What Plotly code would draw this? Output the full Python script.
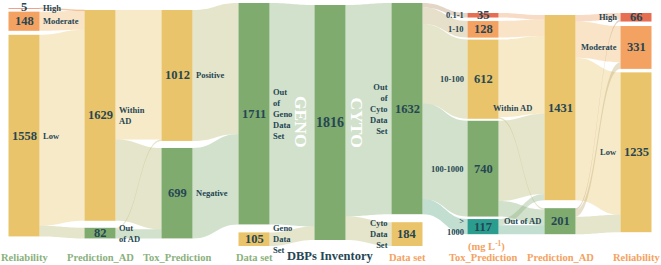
import plotly.graph_objects as go

# ---------------- data ----------------
rel_left_labels = ["High", "Moderate", "Low"]
rel_left_values = [5, 148, 1558]
ad_left_labels = ["Within AD", "Out of AD"]
ad_left_values = [1629, 82]
tox_left_labels = ["Positive", "Negative"]
tox_left_values = [1012, 699]
geno_labels = ["Out of Geno Data Set", "Geno Data Set"]
geno_values = [1711, 105]
inventory_label = "DBPs Inventory"
inventory_total = 1816
cyto_labels = ["Out of Cyto Data Set", "Cyto Data Set"]
cyto_values = [1632, 184]
tox_right_labels = ["0.1-1", "1-10", "10-100", "100-1000", ">1000"]
tox_right_values = [35, 128, 612, 740, 117]
ad_right_labels = ["Within AD", "Out of AD"]
ad_right_values = [1431, 201]
rel_right_labels = ["High", "Moderate", "Low"]
rel_right_values = [66, 331, 1235]

# estimated cross flows (rows = source categories, cols = target categories)
rel_to_ad_left = [[5, 0], [148, 0], [1476, 82]]
ad_to_tox_left = [[1000, 629], [12, 70]]
tox_to_ad_right = [[35, 0], [128, 0], [600, 12], [620, 120], [48, 69]]
ad_to_rel_right = [[50, 280, 1101], [16, 51, 134]]

axis_titles_left = ["Reliability", "Prediction_AD", "Tox_Prediction", "Data set"]
axis_titles_right = ["Data set", "Tox_Prediction", "Prediction_AD", "Reliability"]

# ---------------- styling ----------------
W, H = 661, 265
PAD = 10
THICK = 31
GOLD, GREEN, ORANGE, RED, TEAL = "#E9C46A", "#7FAB6F", "#F4A261", "#E76F51", "#2A9D8F"
NAVY = "#264653"
LGREEN_TXT, ORANGE_TXT = "#8AB17D", "#F4A261"
FONT = "Liberation Serif"

# ---------------- nodes ----------------
names, colors = [], []
def add_nodes(labels, cols):
    start = len(names)
    names.extend(labels)
    colors.extend(cols)
    return list(range(start, start + len(labels)))

RL = add_nodes(rel_left_labels, [RED, ORANGE, GOLD])
AL = add_nodes(ad_left_labels, [GOLD, GREEN])
TL = add_nodes(tox_left_labels, [GOLD, GREEN])
GL = add_nodes(geno_labels, [GREEN, GOLD])
DB = add_nodes([inventory_label], [GREEN])
CR = add_nodes(cyto_labels, [GREEN, GOLD])
TR = add_nodes(tox_right_labels, [RED, ORANGE, GOLD, GREEN, TEAL])
AR = add_nodes(ad_right_labels, [GOLD, GREEN])
RR = add_nodes(rel_right_labels, [RED, ORANGE, GOLD])

src, tgt, val = [], [], []
def link(s, t, v):
    if v > 0:
        src.append(s); tgt.append(t); val.append(v)

for i, row in enumerate(rel_to_ad_left):
    for j, v in enumerate(row):
        link(RL[i], AL[j], v)
for i, row in enumerate(ad_to_tox_left):
    for j, v in enumerate(row):
        link(AL[i], TL[j], v)
for i, v in enumerate(tox_left_values):
    link(TL[i], GL[0], v)
link(GL[0], DB[0], geno_values[0])
link(GL[1], DB[0], geno_values[1])
link(DB[0], CR[0], cyto_values[0])
link(DB[0], CR[1], cyto_values[1])
for i, v in enumerate(tox_right_values):
    link(CR[0], TR[i], v)
for i, row in enumerate(tox_to_ad_right):
    for j, v in enumerate(row):
        link(TR[i], AR[j], v)
for i, row in enumerate(ad_to_rel_right):
    for j, v in enumerate(row):
        link(AR[i], RR[j], v)

n = len(names)
vin = [0] * n; vout = [0] * n
for s, t, v in zip(src, tgt, val):
    vout[s] += v; vin[t] += v
node_val = [max(a, b) for a, b in zip(vin, vout)]

# replicate the library's column grouping to get its pixel-per-unit scale
outgoing = {i: [] for i in range(n)}
for s, t in zip(src, tgt):
    outgoing[s].append(t)
depth = [0] * n
cur, layer = list(range(n)), 0
while cur:
    nxt = []
    for nd in cur:
        depth[nd] = layer
        for t in outgoing[nd]:
            if t not in nxt:
                nxt.append(t)
    cur, layer = nxt, layer + 1
col = [depth[i] if outgoing[i] else layer - 1 for i in range(n)]
ky = min((H - (sum(1 for i in range(n) if col[i] == c) - 1) * PAD) /
         sum(node_val[i] for i in range(n) if col[i] == c)
         for c in set(col))

# visual stacking of each column: (nodes, center x px, top px, gaps px)
groups = [
    (RL, 24, 8, [3, 4]),
    (AL, 100, 10, [7]),
    (TL, 177, 10, [7]),
    (GL, 254, 3, [8]),
    (DB, 330, 5, []),
    (CR, 407, 3, [8]),
    (TR, 483, 13, [3.5, 2, 2, 2.5]),
    (AR, 560, 15, [8]),
    (RR, 636, 13, [4.5, 3.5]),
]
cx = [0.0] * n; cy = [0.0] * n
for idxs, x, top, gaps in groups:
    y = top
    for k, i in enumerate(idxs):
        h = node_val[i] * ky
        cx[i] = x; cy[i] = y + h / 2
        y += h + (gaps[k] if k < len(gaps) else 0)

def hex_rgb(h):
    h = h.lstrip("#")
    return [int(h[i:i + 2], 16) for i in (0, 2, 4)]

def blend(c1, c2, a):
    r1, r2 = hex_rgb(c1), hex_rgb(c2)
    m = [round((p + q) / 2) for p, q in zip(r1, r2)]
    return f"rgba({m[0]},{m[1]},{m[2]},{a})"

link_colors = [blend(colors[s], colors[t], 0.36) for s, t in zip(src, tgt)]

fig = go.Figure(go.Sankey(
    arrangement="fixed",
    node=dict(
        customdata=names,
        hovertemplate="%{customdata}: %{value}<extra></extra>",
        color=colors,
        pad=PAD,
        thickness=THICK,
        line=dict(width=0),
        x=[v / W for v in cx],
        y=[v / H for v in cy],
    ),
    link=dict(source=src, target=tgt, value=val, color=link_colors),
))

def px(x):
    return x / W
def py(y):
    return 1 - y / H

ann = []
def text(x, y, s, size, color=NAVY, xanchor="center", align="center", angle=0):
    ann.append(dict(x=px(x), y=py(y), xref="paper", yref="paper", text=s,
                    showarrow=False, xanchor=xanchor, yanchor="middle", align=align,
                    textangle=angle, borderpad=0,
                    font=dict(family=FONT, size=size, color=color)))

# numbers in nodes
for i in range(n):
    size = 14 if i == DB[0] else 12.5
    text(cx[i], cy[i] - (1 if i == RL[0] else 0), f"<b>{node_val[i]}</b>", size)

# category labels beside nodes
display = {
    AL[0]: "Within<br>AD", AL[1]: "Out<br>of AD",
    GL[0]: "Out<br>of<br>Geno<br>Data<br>Set", GL[1]: "Geno<br>Data<br>Set",
    CR[0]: "Out<br>of<br>Cyto<br>Data<br>Set", CR[1]: "Cyto<br>Data<br>Set",
    TR[4]: "><br>1000",
}
label_pos = {}
for i in RL: label_pos[i] = (42, "left")
for i in AL: label_pos[i] = (118, "left")
for i in TL: label_pos[i] = (195, "left")
for i in GL: label_pos[i] = (272, "left")
for i in CR: label_pos[i] = (389, "right")
for i in TR: label_pos[i] = (465, "right")
label_pos[AR[0]] = (533, "right")
label_pos[AR[1]] = (542, "right")
for i in RR: label_pos[i] = (618, "right")
for i, (x, anc) in label_pos.items():
    s = display.get(i, names[i])
    text(x, cy[i], f"<b>{s}</b>", 8.5, xanchor=anc, align=anc)

# big vertical words
text(301, 122, "<b>GENO</b>", 17.5, color="white", angle=90)
text(356.5, 122, "<b>CYTO</b>", 17.5, color="white", angle=90)

# column titles
left_cols = [24, 100, 177, 254]
right_cols = [407, 483, 560, 636]
for x, s in zip(left_cols, axis_titles_left):
    text(x, 257, f"<b>{s}</b>", 10.5, color=LGREEN_TXT)
for x, s in zip(right_cols, axis_titles_right):
    text(x, 257, f"<b>{s}</b>", 10.5, color=ORANGE_TXT)
text(486, 246, "<b>(mg L<sup>-1</sup>)</b>", 10.5, color=ORANGE_TXT)
text(330, 256, f"<b>{inventory_label}</b>", 12.5)

fig.update_layout(
    width=W, height=H,
    margin=dict(l=0, r=0, t=0, b=0),
    paper_bgcolor="white",
    annotations=ann,
    showlegend=False,
)
fig.write_html("out.html",
               config={"displayModeBar": False},
               post_script="document.body.style.margin='0px';document.body.style.overflow='hidden';")
